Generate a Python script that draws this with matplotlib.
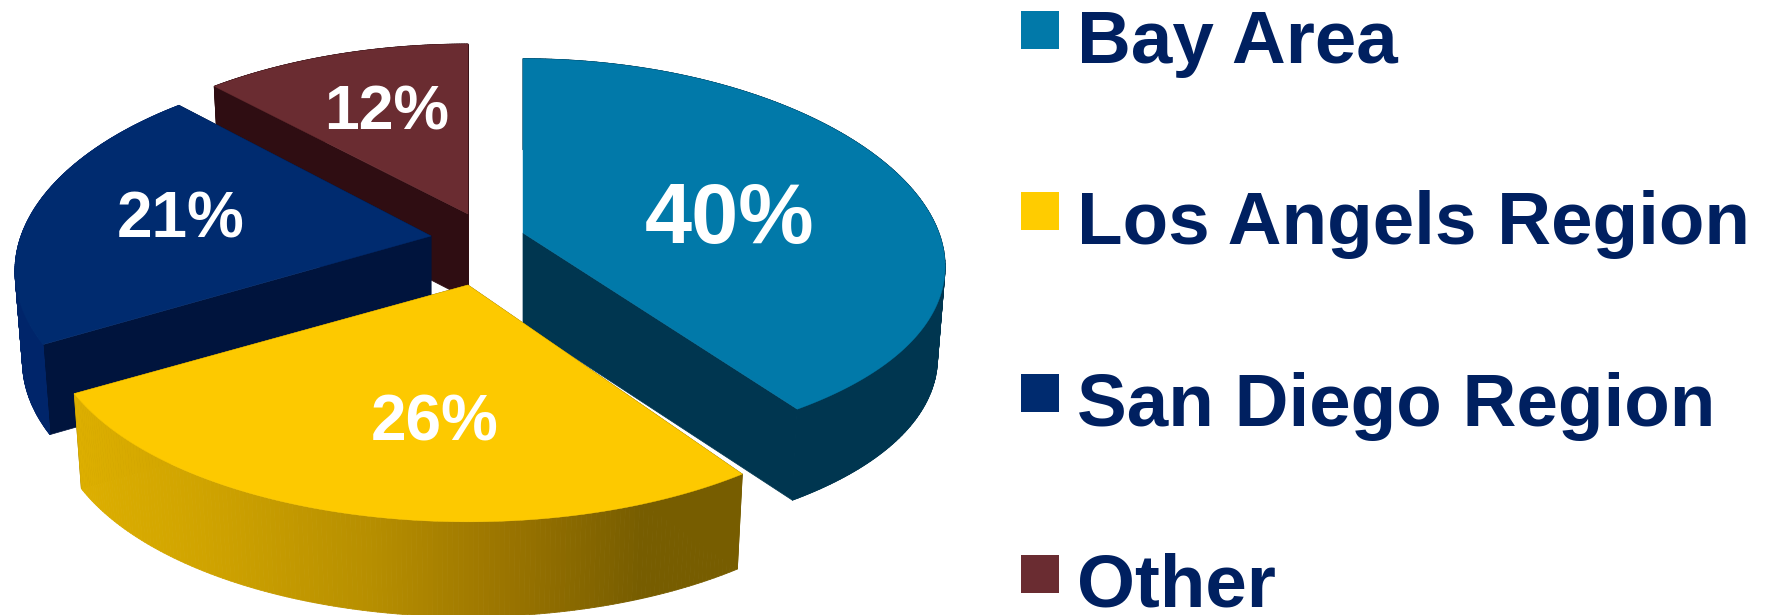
import numpy as np
import matplotlib
matplotlib.use("Agg")
import matplotlib.pyplot as plt
from matplotlib.patches import Polygon, Patch, Rectangle
from matplotlib.collections import PolyCollection
from matplotlib.legend_handler import HandlerPatch
from matplotlib.colors import to_rgb

plt.rcParams['font.family'] = ['Liberation Sans', 'DejaVu Sans']

# Data
categories = ["Bay Area", "Los Angels Region", "San Diego Region", "Other"]
values = [40, 26, 21, 12]

# Style
top_colors = ["#0179A9", "#FDC900", "#002B6F", "#6A2C31"]
cut_colors = ["#003650", "#7A5F00", "#00143D", "#2F0D12"]
rim_colors = ["#003650", None, "#00256A", "#2F0D12"]
legend_colors = ["#0179A9", "#FFCC00", "#002B6F", "#6A2C31"]
text_color = "#002060"

# Layout of each exploded slice, in figure pixels
centers = [(523, 233), (468, 285), (431, 236), (468, 214)]
depths = [91, 95, 90, 85]
persp_y = [0.113, 0.153, 0.153, 0.153]
radius_y = [194, 200.6, 200.6, 196]
radius_x = [416, 416, 410, 413]
label_pos = [(730, 212), (435, 417), (181, 214), (387, 106)]
label_size = [61, 46, 46, 45]
PERSP_X, BASE_SCALE = 0.17, 0.982
SHADE_STOPS = [0.0, 0.20, 0.45, 0.65, 0.85, 1.0]
SHADE_COLORS = ["#DDAF00", "#CFA300", "#B68E00", "#9A7400", "#775D00", "#775D00"]

fig = plt.figure(figsize=(17.66, 6.15), dpi=100)
ax = fig.add_axes([0, 0, 1, 1])
ax.set_xlim(0, 1766)
ax.set_ylim(615, 0)
ax.axis("off")


def project(theta, i):
    u, v = np.sin(theta), np.cos(theta)
    cx, cy = centers[i]
    return (cx + radius_x[i] * u / (1 + PERSP_X * v),
            cy - radius_y[i] * v / (1 + persp_y[i] * v))


def base(x, y, i):
    cx = centers[i][0]
    return cx + (x - cx) * BASE_SCALE, y + depths[i]


edges = np.concatenate([[0], np.cumsum(values)]) / sum(values) * 2 * np.pi
draw_order = [3, 2, 0, 1]
shades = np.array([to_rgb(c) for c in SHADE_COLORS])

for rank, i in enumerate(draw_order):
    th = np.linspace(edges[i], edges[i + 1], 160)
    x, y = project(th, i)
    bx, by = base(x, y, i)
    cx, cy = centers[i]
    z = 2 + rank * 3

    # the two flat cut faces
    for e in (0, -1):
        ax.add_patch(Polygon([(cx, cy), (x[e], y[e]), (bx[e], by[e]), (cx, cy + depths[i])],
                             closed=True, fc=cut_colors[i], ec=cut_colors[i], lw=0.5, zorder=z))

    # outer rim, one narrow strip per step along the arc
    strips = [[(x[k], y[k]), (x[k + 1], y[k + 1]), (bx[k + 1], by[k + 1]), (bx[k], by[k])]
              for k in range(len(th) - 1)]
    if rim_colors[i] is not None:
        cols = [to_rgb(rim_colors[i])] * len(strips)
    else:
        mid = (x[:-1] + x[1:]) / 2
        frac = (mid - x.min()) / (x.max() - x.min())
        cols = np.c_[[np.interp(frac, SHADE_STOPS, shades[:, n]) for n in range(3)]].T
    ax.add_collection(PolyCollection(strips, facecolors=cols, edgecolors=cols,
                                     linewidths=0.6, zorder=z))
    if rim_colors[i] is not None:
        # a clean single fill over the strips, so a flat rim shows no seams
        ax.add_patch(Polygon(np.r_[np.c_[x, y], np.c_[bx, by][::-1]], closed=True,
                             fc=rim_colors[i], ec=rim_colors[i], lw=0.5, zorder=z + 0.5))

    # top face
    ax.add_patch(Polygon(np.r_[[(cx, cy)], np.c_[x, y]], closed=True,
                         fc=top_colors[i], ec=top_colors[i], lw=0.3, zorder=z + 1))
    ax.text(*label_pos[i], f"{values[i]}%", color="white", fontweight="bold",
            fontsize=label_size[i], ha="center", va="center_baseline", zorder=20)


def square(legend, orig_handle, xdescent, ydescent, width, height, fontsize):
    side = 27.4
    return Rectangle((0, 10), side, side)


handles = [Patch(fc=c, ec="none", label=n) for c, n in zip(legend_colors, categories)]
ax.legend(handles=handles, loc="upper left", bbox_to_anchor=(1021, 9),
          bbox_transform=ax.transData, frameon=False, borderpad=0, borderaxespad=0,
          labelcolor=text_color, prop={"weight": "bold", "size": 53.7},
          handlelength=0.51, handleheight=0.51, handletextpad=0.24, labelspacing=1.506,
          handler_map={Patch: HandlerPatch(patch_func=square)})

fig.savefig("out.png", dpi=100, facecolor="white")
